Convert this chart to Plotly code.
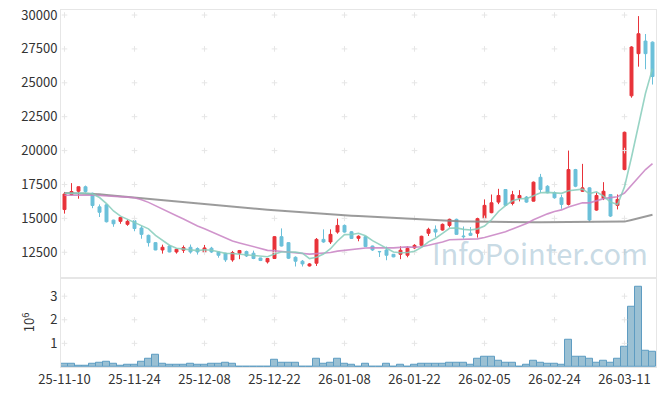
import plotly.graph_objects as go
import pandas as pd

dates = (
    ["2025-11-%02d" % d for d in [10, 11, 12, 13, 14, 17, 18, 19, 20, 21, 24, 25, 26, 27, 28]]
    + ["2025-12-%02d" % d for d in [1, 2, 3, 4, 5, 8, 9, 10, 11, 12, 15, 16, 17, 18, 19, 22, 23, 24, 26, 29, 30]]
    + ["2026-01-%02d" % d for d in [2, 5, 6, 7, 8, 9, 12, 13, 14, 15, 16, 19, 20, 21, 22, 23, 26, 27, 28, 29, 30]]
    + ["2026-02-%02d" % d for d in [2, 3, 4, 5, 6, 9, 10, 11, 12, 13, 19, 20, 23, 24, 25, 26, 27]]
    + ["2026-03-%02d" % d for d in [3, 4, 5, 6, 9, 10, 11, 12, 13, 16, 17]]
)

open_ = [15650, 16750, 17000, 17330, 16850, 15850, 16000, 14870, 14780, 14560,
         14830, 14290, 13750, 13210, 12670, 12960, 12520, 12650, 12870, 12770,
         12520, 12800, 12520, 12430, 11935, 12430, 12550, 12430, 12080, 11790,
         12040, 13650, 13210, 12130, 11840, 11490, 11690, 13450, 13260, 13990,
         14480, 14010, 13530, 13650, 12960, 12560, 12670, 12350, 12350, 12280,
         12820, 13010, 13900, 14190, 14140, 14480, 14930, 13700, 13900, 13900,
         14980, 15420, 16200, 17130, 16100, 16490, 16570, 16270, 18030, 17370,
         16890, 16520, 16030, 18600, 17000, 17250, 15610, 16470, 16760, 15960,
         18600, 24040, 27150, 28080, 28000]
high = [16950, 17600, 17350, 17420, 16900, 16030, 16050, 14900, 15100, 14900,
        14880, 14430, 13800, 13250, 13060, 13000, 12760, 13000, 13070, 12860,
        13040, 12900, 12550, 12460, 12600, 12670, 12620, 12620, 12100, 12080,
        13700, 14260, 13250, 12200, 11930, 11700, 13550, 14190, 14190, 14980,
        14550, 14060, 13750, 13700, 12990, 12580, 12920, 12370, 12940, 12940,
        13100, 13720, 14310, 14480, 14620, 14980, 14980, 14400, 14360, 15050,
        16400, 16760, 17180, 17150, 17030, 17080, 16650, 17720, 18280, 17450,
        16990, 16740, 20000, 18650, 19020, 17300, 16900, 17670, 16800, 16760,
        21400, 27700, 29920, 28600, 28050]
low = [15350, 16700, 16450, 16900, 15750, 15100, 14700, 14380, 14600, 14450,
       14050, 13500, 12920, 12650, 12400, 12500, 12400, 12450, 12400, 12330,
       12450, 12450, 12100, 11790, 11800, 11990, 12150, 11990, 11850, 11670,
       12000, 12930, 12000, 11450, 11450, 11450, 11490, 13200, 13110, 13870,
       13950, 13480, 13310, 12900, 12600, 12150, 11910, 12130, 11990, 12130,
       12750, 12990, 13700, 13630, 14100, 14330, 13800, 13500, 13700, 13580,
       14900, 15380, 16050, 15900, 15960, 16250, 16150, 16250, 16890, 16850,
       16450, 15710, 15950, 17300, 16950, 14750, 15560, 16350, 15100, 15660,
       18550, 23900, 26190, 26000, 24870]
close = [16800, 16980, 17330, 16980, 15950, 15450, 14750, 14600, 15070, 14780,
         14250, 13820, 13210, 12670, 12870, 12520, 12720, 12845, 12520, 12520,
         12820, 12520, 12280, 11940, 12480, 12630, 12230, 12040, 11890, 12040,
         13650, 12960, 12060, 11840, 11640, 11640, 13450, 13260, 13820, 14480,
         13990, 13520, 13680, 12920, 12670, 12540, 12280, 12160, 12650, 12790,
         13010, 13680, 14190, 13990, 14560, 14930, 13820, 13650, 13750, 14980,
         15960, 16150, 16690, 15960, 16740, 16690, 16200, 17670, 17130, 16890,
         16520, 16030, 18600, 17370, 17250, 14880, 16690, 17000, 15170, 16400,
         21350, 27640, 28620, 27150, 25460]
volume_m = [0.125, 0.125, 0.04, 0.04, 0.125, 0.17, 0.22, 0.125, 0.04, 0.08,
            0.08, 0.22, 0.33, 0.5, 0.125, 0.08, 0.08, 0.08, 0.125, 0.08,
            0.08, 0.12, 0.12, 0.2, 0.12, 0.03, 0.03, 0.03, 0.03, 0.03,
            0.3, 0.17, 0.17, 0.17, 0.03, 0.03, 0.37, 0.12, 0.17, 0.33,
            0.12, 0.08, 0.03, 0.12, 0.03, 0.03, 0.12, 0.03, 0.08, 0.03,
            0.08, 0.12, 0.12, 0.12, 0.12, 0.17, 0.17, 0.17, 0.08, 0.37,
            0.42, 0.42, 0.25, 0.17, 0.17, 0.03, 0.08, 0.25, 0.2, 0.12,
            0.12, 0.08, 1.17, 0.42, 0.42, 0.33, 0.17, 0.25, 0.2, 0.37,
            0.87, 2.55, 3.39, 0.68, 0.64]

# moving averages: leading values (need history before the window)
ma5_lead = [16850, 16860, 16880, 16870]
ma20_lead = [16700, 16710, 16720, 16720, 16710, 16690, 16670, 16640, 16610, 16570,
             16520, 16380, 16180, 15950, 15700, 15450, 15200, 14950, 14680]
ma120 = [16880, 16870, 16860, 16845, 16820, 16780, 16730, 16680, 16630, 16580,
         16520, 16470, 16420, 16370, 16320, 16270, 16220, 16175, 16125, 16080,
         16030, 15980, 15930, 15880, 15830, 15790, 15750, 15710, 15670, 15630,
         15590, 15550, 15515, 15480, 15440, 15405, 15370, 15335, 15300, 15270,
         15235, 15200, 15170, 15140, 15110, 15080, 15050, 15020, 14990, 14960,
         14925, 14900, 14875, 14850, 14825, 14800, 14785, 14770, 14760, 14750,
         14740, 14735, 14730, 14725, 14720, 14720, 14720, 14720, 14720, 14720,
         14720, 14722, 14725, 14727, 14730, 14732, 14734, 14736, 14738, 14740,
         14760, 14880, 15010, 15140, 15270]

xtick_labels = ["25-11-10", "25-11-24", "25-12-08", "25-12-22", "26-01-08",
                "26-01-22", "26-02-05", "26-02-24", "26-03-11"]
xtick_dates = ["2025-11-10", "2025-11-24", "2025-12-08", "2025-12-22", "2026-01-08",
               "2026-01-22", "2026-02-05", "2026-02-24", "2026-03-11"]
price_ticks = [12500, 15000, 17500, 20000, 22500, 25000, 27500, 30000]
vol_ticks = [1, 2, 3]

cs = pd.Series(close, dtype=float)
ma5 = list(ma5_lead) + list(cs.rolling(5).mean().iloc[len(ma5_lead):])
ma20 = list(ma20_lead) + list(cs.rolling(20).mean().iloc[len(ma20_lead):])

UP = "#e8343b"
DOWN = "#6cc0d9"
FONT = "Noto Sans CJK KR"

fig = go.Figure()

# grid crosses
gx, gy = [], []
for d in xtick_dates:
    for v in price_ticks:
        gx.append(d); gy.append(v)
fig.add_trace(go.Scatter(x=gx, y=gy, mode="markers", xaxis="x", yaxis="y",
                         marker=dict(symbol="cross-thin", size=4,
                                     line=dict(width=1, color="#e6e6e6")),
                         hoverinfo="skip", showlegend=False))
vx, vy = [], []
for d in xtick_dates:
    for v in vol_ticks:
        vx.append(d); vy.append(v)
fig.add_trace(go.Scatter(x=vx, y=vy, mode="markers", xaxis="x2", yaxis="y2",
                         marker=dict(symbol="cross-thin", size=4,
                                     line=dict(width=1, color="#e6e6e6")),
                         hoverinfo="skip", showlegend=False))

fig.add_trace(go.Candlestick(
    x=dates, open=open_, high=high, low=low, close=close,
    xaxis="x", yaxis="y", whiskerwidth=0,
    increasing=dict(line=dict(color=UP, width=1), fillcolor=UP),
    decreasing=dict(line=dict(color=DOWN, width=1), fillcolor=DOWN),
    showlegend=False))

fig.add_trace(go.Scatter(x=dates, y=ma120, mode="lines", xaxis="x", yaxis="y",
                         line=dict(color="#8c8c8c", width=2), opacity=0.85,
                         showlegend=False, hoverinfo="skip"))
fig.add_trace(go.Scatter(x=dates, y=ma20, mode="lines", xaxis="x", yaxis="y",
                         line=dict(color="#c983c4", width=1.6), opacity=0.85,
                         showlegend=False, hoverinfo="skip"))
fig.add_trace(go.Scatter(x=dates, y=ma5, mode="lines", xaxis="x", yaxis="y",
                         line=dict(color="#86cdbb", width=1.6), opacity=0.85,
                         showlegend=False, hoverinfo="skip"))

fig.add_trace(go.Bar(x=dates, y=volume_m, xaxis="x2", yaxis="y2",
                     marker=dict(color="#9ac0d3", line=dict(color="#5e9cc2", width=1)),
                     showlegend=False))

axis_common = dict(showgrid=False, zeroline=False, showline=True, mirror=True,
                   linecolor="#e6e6e6", linewidth=1, automargin=False)

fig.update_layout(
    width=665, height=396,
    margin=dict(l=61, r=9, t=10, b=29),
    paper_bgcolor="white", plot_bgcolor="white",
    font=dict(family=FONT, size=13, color="#333333"),
    showlegend=False, bargap=0, boxgap=0.4,
    xaxis=dict(type="category", domain=[0, 1], anchor="y",
               categoryorder="array", categoryarray=dates,
               range=[-0.5, len(dates) - 0.5], showticklabels=False,
               tickvals=xtick_dates, ticks="", rangeslider=dict(visible=False),
               **axis_common),
    yaxis=dict(domain=[0.25, 1], anchor="x", range=[10620, 30370],
               tickvals=price_ticks, tickformat="d", ticks="",
               tickfont=dict(size=13), **axis_common),
    xaxis2=dict(type="category", domain=[0, 1], anchor="y2", matches="x",
                categoryorder="array", categoryarray=dates,
                tickvals=xtick_dates, ticktext=xtick_labels, ticks="",
                tickfont=dict(size=13), **axis_common),
    yaxis2=dict(domain=[0, 0.25], anchor="x2", range=[0, 3.78],
                tickvals=vol_ticks, ticks="", tickfont=dict(size=13),
                title=dict(text="10<sup>6</sup>", font=dict(size=13), standoff=12),
                **axis_common),
    annotations=[dict(text="InfoPointer.com", xref="paper", yref="paper",
                      x=0.62, y=0.322, xanchor="left", yanchor="middle",
                      showarrow=False,
                      font=dict(family=FONT, size=29, color="rgba(165,195,212,0.62)"))],
)

fig.write_html("out.html", config={"displayModeBar": False},
               post_script="document.body.style.margin='0';document.body.style.padding='0';")
